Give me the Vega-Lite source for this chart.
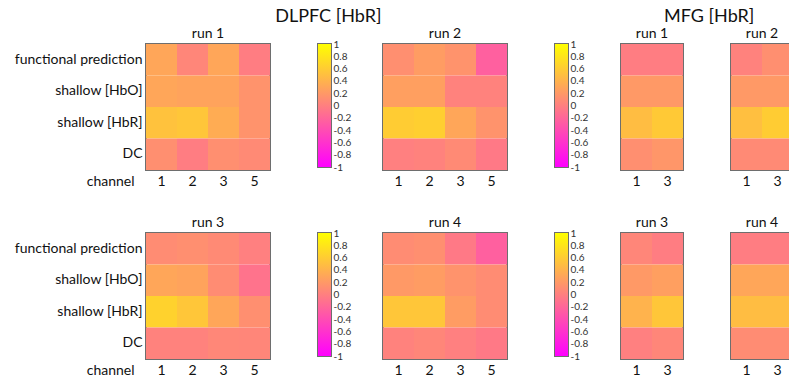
{
  "$schema": "https://vega.github.io/schema/vega-lite/v6.json",
  "padding": {"left": 13, "top": 8, "right": 0, "bottom": 0},
  "background": "white",
  "config": {
    "font": "Lato",
    "view": {"stroke": "#6e6e6e", "strokeWidth": 2},
    "axis": {"labelFont": "Lato", "labelFontSize": 14, "labelColor": "#111", "ticks": false, "domain": false, "grid": false, "labelPadding": 4},
    "title": {"font": "Lato", "fontSize": 14, "fontWeight": "normal", "color": "#111", "offset": 3}
  },
  "data": {"values": [
    {"region":"DLPFC","run":1,"measure":"functional prediction","channel":"1","value":0.3},
    {"region":"DLPFC","run":1,"measure":"functional prediction","channel":"2","value":0.05},
    {"region":"DLPFC","run":1,"measure":"functional prediction","channel":"3","value":0.3},
    {"region":"DLPFC","run":1,"measure":"functional prediction","channel":"5","value":-0.02},
    {"region":"DLPFC","run":1,"measure":"shallow [HbO]","channel":"1","value":0.3},
    {"region":"DLPFC","run":1,"measure":"shallow [HbO]","channel":"2","value":0.28},
    {"region":"DLPFC","run":1,"measure":"shallow [HbO]","channel":"3","value":0.28},
    {"region":"DLPFC","run":1,"measure":"shallow [HbO]","channel":"5","value":0.15},
    {"region":"DLPFC","run":1,"measure":"shallow [HbR]","channel":"1","value":0.52},
    {"region":"DLPFC","run":1,"measure":"shallow [HbR]","channel":"2","value":0.55},
    {"region":"DLPFC","run":1,"measure":"shallow [HbR]","channel":"3","value":0.35},
    {"region":"DLPFC","run":1,"measure":"shallow [HbR]","channel":"5","value":0.15},
    {"region":"DLPFC","run":1,"measure":"DC","channel":"1","value":0.12},
    {"region":"DLPFC","run":1,"measure":"DC","channel":"2","value":-0.02},
    {"region":"DLPFC","run":1,"measure":"DC","channel":"3","value":0.12},
    {"region":"DLPFC","run":1,"measure":"DC","channel":"5","value":0.08},
    {"region":"DLPFC","run":2,"measure":"functional prediction","channel":"1","value":0.12},
    {"region":"DLPFC","run":2,"measure":"functional prediction","channel":"2","value":0.22},
    {"region":"DLPFC","run":2,"measure":"functional prediction","channel":"3","value":0.15},
    {"region":"DLPFC","run":2,"measure":"functional prediction","channel":"5","value":-0.25},
    {"region":"DLPFC","run":2,"measure":"shallow [HbO]","channel":"1","value":0.25},
    {"region":"DLPFC","run":2,"measure":"shallow [HbO]","channel":"2","value":0.25},
    {"region":"DLPFC","run":2,"measure":"shallow [HbO]","channel":"3","value":0.02},
    {"region":"DLPFC","run":2,"measure":"shallow [HbO]","channel":"5","value":0.02},
    {"region":"DLPFC","run":2,"measure":"shallow [HbR]","channel":"1","value":0.6},
    {"region":"DLPFC","run":2,"measure":"shallow [HbR]","channel":"2","value":0.62},
    {"region":"DLPFC","run":2,"measure":"shallow [HbR]","channel":"3","value":0.3},
    {"region":"DLPFC","run":2,"measure":"shallow [HbR]","channel":"5","value":0.15},
    {"region":"DLPFC","run":2,"measure":"DC","channel":"1","value":0.0},
    {"region":"DLPFC","run":2,"measure":"DC","channel":"2","value":0.02},
    {"region":"DLPFC","run":2,"measure":"DC","channel":"3","value":0.08},
    {"region":"DLPFC","run":2,"measure":"DC","channel":"5","value":-0.05},
    {"region":"DLPFC","run":3,"measure":"functional prediction","channel":"1","value":0.1},
    {"region":"DLPFC","run":3,"measure":"functional prediction","channel":"2","value":0.12},
    {"region":"DLPFC","run":3,"measure":"functional prediction","channel":"3","value":0.08},
    {"region":"DLPFC","run":3,"measure":"functional prediction","channel":"5","value":0.0},
    {"region":"DLPFC","run":3,"measure":"shallow [HbO]","channel":"1","value":0.3},
    {"region":"DLPFC","run":3,"measure":"shallow [HbO]","channel":"2","value":0.28},
    {"region":"DLPFC","run":3,"measure":"shallow [HbO]","channel":"3","value":0.1},
    {"region":"DLPFC","run":3,"measure":"shallow [HbO]","channel":"5","value":-0.1},
    {"region":"DLPFC","run":3,"measure":"shallow [HbR]","channel":"1","value":0.65},
    {"region":"DLPFC","run":3,"measure":"shallow [HbR]","channel":"2","value":0.55},
    {"region":"DLPFC","run":3,"measure":"shallow [HbR]","channel":"3","value":0.3},
    {"region":"DLPFC","run":3,"measure":"shallow [HbR]","channel":"5","value":0.12},
    {"region":"DLPFC","run":3,"measure":"DC","channel":"1","value":0.02},
    {"region":"DLPFC","run":3,"measure":"DC","channel":"2","value":0.02},
    {"region":"DLPFC","run":3,"measure":"DC","channel":"3","value":0.06},
    {"region":"DLPFC","run":3,"measure":"DC","channel":"5","value":0.05},
    {"region":"DLPFC","run":4,"measure":"functional prediction","channel":"1","value":0.1},
    {"region":"DLPFC","run":4,"measure":"functional prediction","channel":"2","value":0.12},
    {"region":"DLPFC","run":4,"measure":"functional prediction","channel":"3","value":-0.05},
    {"region":"DLPFC","run":4,"measure":"functional prediction","channel":"5","value":-0.25},
    {"region":"DLPFC","run":4,"measure":"shallow [HbO]","channel":"1","value":0.2},
    {"region":"DLPFC","run":4,"measure":"shallow [HbO]","channel":"2","value":0.22},
    {"region":"DLPFC","run":4,"measure":"shallow [HbO]","channel":"3","value":0.15},
    {"region":"DLPFC","run":4,"measure":"shallow [HbO]","channel":"5","value":0.1},
    {"region":"DLPFC","run":4,"measure":"shallow [HbR]","channel":"1","value":0.55},
    {"region":"DLPFC","run":4,"measure":"shallow [HbR]","channel":"2","value":0.55},
    {"region":"DLPFC","run":4,"measure":"shallow [HbR]","channel":"3","value":0.22},
    {"region":"DLPFC","run":4,"measure":"shallow [HbR]","channel":"5","value":0.1},
    {"region":"DLPFC","run":4,"measure":"DC","channel":"1","value":0.02},
    {"region":"DLPFC","run":4,"measure":"DC","channel":"2","value":0.05},
    {"region":"DLPFC","run":4,"measure":"DC","channel":"3","value":0.0},
    {"region":"DLPFC","run":4,"measure":"DC","channel":"5","value":-0.05},
    {"region":"MFG","run":1,"measure":"functional prediction","channel":"1","value":-0.02},
    {"region":"MFG","run":1,"measure":"functional prediction","channel":"3","value":-0.02},
    {"region":"MFG","run":1,"measure":"shallow [HbO]","channel":"1","value":0.2},
    {"region":"MFG","run":1,"measure":"shallow [HbO]","channel":"3","value":0.2},
    {"region":"MFG","run":1,"measure":"shallow [HbR]","channel":"1","value":0.48},
    {"region":"MFG","run":1,"measure":"shallow [HbR]","channel":"3","value":0.58},
    {"region":"MFG","run":1,"measure":"DC","channel":"1","value":0.12},
    {"region":"MFG","run":1,"measure":"DC","channel":"3","value":0.18},
    {"region":"MFG","run":2,"measure":"functional prediction","channel":"1","value":0.02},
    {"region":"MFG","run":2,"measure":"functional prediction","channel":"3","value":0.12},
    {"region":"MFG","run":2,"measure":"shallow [HbO]","channel":"1","value":0.2},
    {"region":"MFG","run":2,"measure":"shallow [HbO]","channel":"3","value":0.2},
    {"region":"MFG","run":2,"measure":"shallow [HbR]","channel":"1","value":0.5},
    {"region":"MFG","run":2,"measure":"shallow [HbR]","channel":"3","value":0.6},
    {"region":"MFG","run":2,"measure":"DC","channel":"1","value":0.08},
    {"region":"MFG","run":2,"measure":"DC","channel":"3","value":0.08},
    {"region":"MFG","run":3,"measure":"functional prediction","channel":"1","value":0.05},
    {"region":"MFG","run":3,"measure":"functional prediction","channel":"3","value":-0.02},
    {"region":"MFG","run":3,"measure":"shallow [HbO]","channel":"1","value":0.2},
    {"region":"MFG","run":3,"measure":"shallow [HbO]","channel":"3","value":0.25},
    {"region":"MFG","run":3,"measure":"shallow [HbR]","channel":"1","value":0.4},
    {"region":"MFG","run":3,"measure":"shallow [HbR]","channel":"3","value":0.55},
    {"region":"MFG","run":3,"measure":"DC","channel":"1","value":0.0},
    {"region":"MFG","run":3,"measure":"DC","channel":"3","value":0.05},
    {"region":"MFG","run":4,"measure":"functional prediction","channel":"1","value":-0.02},
    {"region":"MFG","run":4,"measure":"functional prediction","channel":"3","value":-0.02},
    {"region":"MFG","run":4,"measure":"shallow [HbO]","channel":"1","value":0.3},
    {"region":"MFG","run":4,"measure":"shallow [HbO]","channel":"3","value":0.3},
    {"region":"MFG","run":4,"measure":"shallow [HbR]","channel":"1","value":0.48},
    {"region":"MFG","run":4,"measure":"shallow [HbR]","channel":"3","value":0.48},
    {"region":"MFG","run":4,"measure":"DC","channel":"1","value":0.1},
    {"region":"MFG","run":4,"measure":"DC","channel":"3","value":0.1}
  ]},
  "spacing": 31,
  "hconcat": [
    {
      "title": {"text": "DLPFC [HbR]", "fontSize": 18, "offset": 0, "anchor": "start", "dx": 262},
      "spacing": 26,
      "vconcat": [
        {
          "spacing": 30,
          "hconcat": [
            {
              "spacing": 46,
              "hconcat": [
                {
                  "title": "run 1", "width": 124, "height": 126,
                  "transform": [{"filter": "datum.region === 'DLPFC' && datum.run === 1"}],
                  "mark": "rect",
                  "encoding": {
                    "x": {"field": "channel", "type": "ordinal", "axis": {"labelAngle": 0, "title": "channel", "titleFont": "Lato", "titleFontSize": 14, "titleFontWeight": "normal", "titleColor": "#111", "titleX": -12, "titleY": 4, "titleAlign": "right", "titleBaseline": "top", "titleAnchor": null}},
                    "y": {"field": "measure", "type": "nominal", "sort": ["functional prediction", "shallow [HbO]", "shallow [HbR]", "DC"], "axis": {"title": null, "labelPadding": 4}},
                    "color": {"field": "value", "type": "quantitative", "scale": {"domain": [-1, 1], "range": ["#ff00ff", "#ffff00"], "interpolate": "rgb"}, "legend": null}
                  }
                },
                {
                  "width": 13, "height": 123,
                  "data": {"values": [{"lo": -1, "hi": 1}]},
                  "mark": {"type": "rect", "color": {"gradient": "linear", "x1": 0, "y1": 1, "x2": 0, "y2": 0, "stops": [{"offset": 0, "color": "#ff00ff"}, {"offset": 1, "color": "#ffff00"}]}},
                  "encoding": {
                    "y": {"field": "hi", "type": "quantitative", "scale": {"domain": [-1, 1], "nice": false, "zero": false}, "axis": {"orient": "right", "title": null, "values": [-1, -0.8, -0.6, -0.4, -0.2, 0, 0.2, 0.4, 0.6, 0.8, 1], "labelExpr": "'' + datum.value", "labelFontSize": 10, "labelColor": "#333", "labelPadding": 2, "labelOverlap": false, "ticks": false, "domain": false}},
                    "y2": {"field": "lo"}
                  }
                }
              ]
            },
            {
              "spacing": 46,
              "hconcat": [
                {
                  "title": "run 2", "width": 124, "height": 126,
                  "transform": [{"filter": "datum.region === 'DLPFC' && datum.run === 2"}],
                  "mark": "rect",
                  "encoding": {
                    "x": {"field": "channel", "type": "ordinal", "axis": {"labelAngle": 0, "title": null}},
                    "y": {"field": "measure", "type": "nominal", "sort": ["functional prediction", "shallow [HbO]", "shallow [HbR]", "DC"], "axis": null},
                    "color": {"field": "value", "type": "quantitative", "scale": {"domain": [-1, 1], "range": ["#ff00ff", "#ffff00"], "interpolate": "rgb"}, "legend": null}
                  }
                },
                {
                  "width": 13, "height": 123,
                  "data": {"values": [{"lo": -1, "hi": 1}]},
                  "mark": {"type": "rect", "color": {"gradient": "linear", "x1": 0, "y1": 1, "x2": 0, "y2": 0, "stops": [{"offset": 0, "color": "#ff00ff"}, {"offset": 1, "color": "#ffff00"}]}},
                  "encoding": {
                    "y": {"field": "hi", "type": "quantitative", "scale": {"domain": [-1, 1], "nice": false, "zero": false}, "axis": {"orient": "right", "title": null, "values": [-1, -0.8, -0.6, -0.4, -0.2, 0, 0.2, 0.4, 0.6, 0.8, 1], "labelExpr": "'' + datum.value", "labelFontSize": 10, "labelColor": "#333", "labelPadding": 2, "labelOverlap": false, "ticks": false, "domain": false}},
                    "y2": {"field": "lo"}
                  }
                }
              ]
            }
          ]
        },
        {
          "spacing": 30,
          "hconcat": [
            {
              "spacing": 46,
              "hconcat": [
                {
                  "title": "run 3", "width": 124, "height": 126,
                  "transform": [{"filter": "datum.region === 'DLPFC' && datum.run === 3"}],
                  "mark": "rect",
                  "encoding": {
                    "x": {"field": "channel", "type": "ordinal", "axis": {"labelAngle": 0, "title": "channel", "titleFont": "Lato", "titleFontSize": 14, "titleFontWeight": "normal", "titleColor": "#111", "titleX": -12, "titleY": 4, "titleAlign": "right", "titleBaseline": "top", "titleAnchor": null}},
                    "y": {"field": "measure", "type": "nominal", "sort": ["functional prediction", "shallow [HbO]", "shallow [HbR]", "DC"], "axis": {"title": null, "labelPadding": 4}},
                    "color": {"field": "value", "type": "quantitative", "scale": {"domain": [-1, 1], "range": ["#ff00ff", "#ffff00"], "interpolate": "rgb"}, "legend": null}
                  }
                },
                {
                  "width": 13, "height": 123,
                  "data": {"values": [{"lo": -1, "hi": 1}]},
                  "mark": {"type": "rect", "color": {"gradient": "linear", "x1": 0, "y1": 1, "x2": 0, "y2": 0, "stops": [{"offset": 0, "color": "#ff00ff"}, {"offset": 1, "color": "#ffff00"}]}},
                  "encoding": {
                    "y": {"field": "hi", "type": "quantitative", "scale": {"domain": [-1, 1], "nice": false, "zero": false}, "axis": {"orient": "right", "title": null, "values": [-1, -0.8, -0.6, -0.4, -0.2, 0, 0.2, 0.4, 0.6, 0.8, 1], "labelExpr": "'' + datum.value", "labelFontSize": 10, "labelColor": "#333", "labelPadding": 2, "labelOverlap": false, "ticks": false, "domain": false}},
                    "y2": {"field": "lo"}
                  }
                }
              ]
            },
            {
              "spacing": 46,
              "hconcat": [
                {
                  "title": "run 4", "width": 124, "height": 126,
                  "transform": [{"filter": "datum.region === 'DLPFC' && datum.run === 4"}],
                  "mark": "rect",
                  "encoding": {
                    "x": {"field": "channel", "type": "ordinal", "axis": {"labelAngle": 0, "title": null}},
                    "y": {"field": "measure", "type": "nominal", "sort": ["functional prediction", "shallow [HbO]", "shallow [HbR]", "DC"], "axis": null},
                    "color": {"field": "value", "type": "quantitative", "scale": {"domain": [-1, 1], "range": ["#ff00ff", "#ffff00"], "interpolate": "rgb"}, "legend": null}
                  }
                },
                {
                  "width": 13, "height": 123,
                  "data": {"values": [{"lo": -1, "hi": 1}]},
                  "mark": {"type": "rect", "color": {"gradient": "linear", "x1": 0, "y1": 1, "x2": 0, "y2": 0, "stops": [{"offset": 0, "color": "#ff00ff"}, {"offset": 1, "color": "#ffff00"}]}},
                  "encoding": {
                    "y": {"field": "hi", "type": "quantitative", "scale": {"domain": [-1, 1], "nice": false, "zero": false}, "axis": {"orient": "right", "title": null, "values": [-1, -0.8, -0.6, -0.4, -0.2, 0, 0.2, 0.4, 0.6, 0.8, 1], "labelExpr": "'' + datum.value", "labelFontSize": 10, "labelColor": "#333", "labelPadding": 2, "labelOverlap": false, "ticks": false, "domain": false}},
                    "y2": {"field": "lo"}
                  }
                }
              ]
            }
          ]
        }
      ]
    },
    {
      "title": {"text": "MFG [HbR]", "fontSize": 18, "offset": 0, "anchor": "start", "dx": 44},
      "spacing": 26,
      "vconcat": [
        {
          "spacing": 46,
          "hconcat": [
            {
              "title": "run 1", "width": 62, "height": 126,
              "transform": [{"filter": "datum.region === 'MFG' && datum.run === 1"}],
              "mark": "rect",
              "encoding": {
                "x": {"field": "channel", "type": "ordinal", "axis": {"labelAngle": 0, "title": null}},
                "y": {"field": "measure", "type": "nominal", "sort": ["functional prediction", "shallow [HbO]", "shallow [HbR]", "DC"], "axis": null},
                "color": {"field": "value", "type": "quantitative", "scale": {"domain": [-1, 1], "range": ["#ff00ff", "#ffff00"], "interpolate": "rgb"}, "legend": null}
              }
            },
            {
              "title": "run 2", "width": 62, "height": 126,
              "transform": [{"filter": "datum.region === 'MFG' && datum.run === 2"}],
              "mark": "rect",
              "encoding": {
                "x": {"field": "channel", "type": "ordinal", "axis": {"labelAngle": 0, "title": null}},
                "y": {"field": "measure", "type": "nominal", "sort": ["functional prediction", "shallow [HbO]", "shallow [HbR]", "DC"], "axis": null},
                "color": {"field": "value", "type": "quantitative", "scale": {"domain": [-1, 1], "range": ["#ff00ff", "#ffff00"], "interpolate": "rgb"}, "legend": null}
              }
            }
          ]
        },
        {
          "spacing": 46,
          "hconcat": [
            {
              "title": "run 3", "width": 62, "height": 126,
              "transform": [{"filter": "datum.region === 'MFG' && datum.run === 3"}],
              "mark": "rect",
              "encoding": {
                "x": {"field": "channel", "type": "ordinal", "axis": {"labelAngle": 0, "title": null}},
                "y": {"field": "measure", "type": "nominal", "sort": ["functional prediction", "shallow [HbO]", "shallow [HbR]", "DC"], "axis": null},
                "color": {"field": "value", "type": "quantitative", "scale": {"domain": [-1, 1], "range": ["#ff00ff", "#ffff00"], "interpolate": "rgb"}, "legend": null}
              }
            },
            {
              "title": "run 4", "width": 62, "height": 126,
              "transform": [{"filter": "datum.region === 'MFG' && datum.run === 4"}],
              "mark": "rect",
              "encoding": {
                "x": {"field": "channel", "type": "ordinal", "axis": {"labelAngle": 0, "title": null}},
                "y": {"field": "measure", "type": "nominal", "sort": ["functional prediction", "shallow [HbO]", "shallow [HbR]", "DC"], "axis": null},
                "color": {"field": "value", "type": "quantitative", "scale": {"domain": [-1, 1], "range": ["#ff00ff", "#ffff00"], "interpolate": "rgb"}, "legend": null}
              }
            }
          ]
        }
      ]
    }
  ]
}
